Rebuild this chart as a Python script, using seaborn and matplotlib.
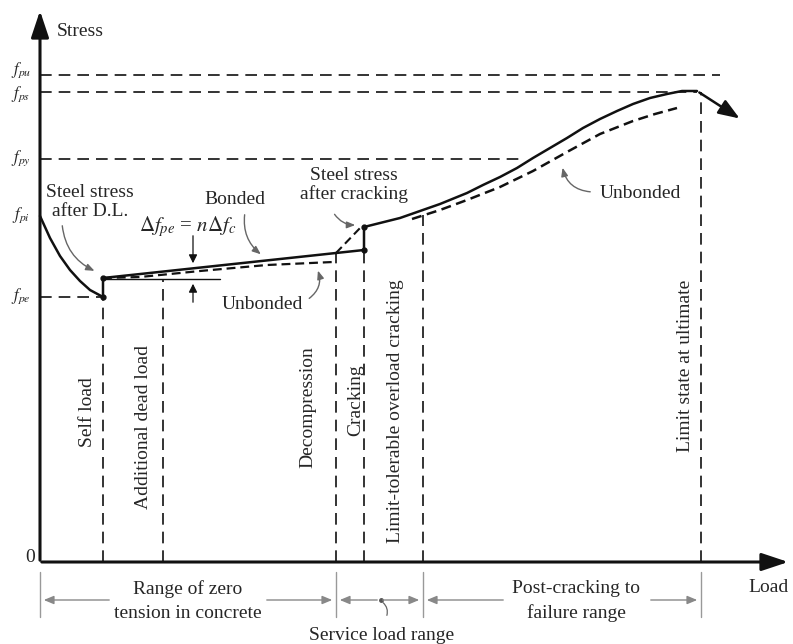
# -*- coding: utf-8 -*-
"""
Schematic: steel stress vs. load for a prestressed member
(bonded and unbonded tendons).
"""

import numpy as np
import pandas as pd
import seaborn as sns
import matplotlib.pyplot as plt


# Figure style
sns.set_style('white')
plt.rcParams['font.family'] = ['Liberation Serif', 'DejaVu Serif']
plt.rcParams['mathtext.fontset'] = 'stix'


# Stress levels (label, value)
level_labels = [r'$f_{pu}$', r'$f_{ps}$', r'$f_{py}$', r'$f_{pi}$', r'$f_{pe}$']
level_values = [487, 470, 403, 346, 265]
level_ends = [680, 657, 483, None, 63]   # load where the dashed line stops
label_shift = [4, -3, 0, 0, 0]          # nudge so f_pu / f_ps do not touch

# Load stages (vertical dashed lines)
stage_labels = ['Self load', 'Additional dead load', 'Decompression',
                'Cracking', 'Limit-tolerable overload cracking',
                'Limit state at ultimate']
stage_loads = [63, 123, 296, 324, 383, 661]
stage_tops = [265, 282, 309, 312, 347, 470]
stage_text_x = [48, 103, 268, 316, 356, 645]
stage_text_y = [150, 135, 155, 162, 151, 196]

# Loss of prestress before self load
loss_load = [0, 10, 20, 30, 40, 50, 63]
loss_stress = [346, 324, 306, 292, 281, 272, 265]

# Bonded tendon: elastic range, then jump at cracking, then post-cracking
bonded_pre_load = [63, 63, 324, 324]
bonded_pre_stress = [265, 284, 312, 335]
bonded_post_load = [324, 340, 360, 380, 400, 427, 443, 460, 477, 493, 510,
                    527, 543, 560, 577, 593, 610, 627, 642, 657]
bonded_post_stress = [335, 339, 344, 351, 358, 369, 377, 385, 394, 404, 414,
                      424, 434, 443, 451, 458, 464, 468, 471, 471]

# Unbonded tendon
unbonded_pre_load = [63, 100, 160, 227, 293]
unbonded_pre_stress = [284, 285, 291, 297, 300]
unbonded_post_load = [372, 400, 427, 460, 493, 527, 560, 593, 615, 637]
unbonded_post_stress = [343, 352, 362, 375, 391, 410, 428, 441, 448, 454]

# Dashed jump line decompression -> cracking
jump_load = [296, 322]
jump_stress = [309, 336]

# Ranges along the load axis
range_ticks = [0, 296, 383, 661]


# Build tables for seaborn
df_loss = pd.DataFrame({'Load': loss_load, 'Stress': loss_stress})
df_bonded = pd.DataFrame({'Load': bonded_pre_load + bonded_post_load,
                          'Stress': bonded_pre_stress + bonded_post_stress})
df_unb1 = pd.DataFrame({'Load': unbonded_pre_load,
                        'Stress': unbonded_pre_stress})
df_unb2 = pd.DataFrame({'Load': unbonded_post_load,
                        'Stress': unbonded_post_stress})


# Plot variables
ink = '#111111'
dash_color = '#333333'
lead_color = '#666666'
fs = 14
dash_style = (0, (6.0, 3.6))
unb_style = (0, (4.0, 2.2))

fig = plt.figure(figsize=(7.93, 6.44), dpi=100)
ax = fig.add_axes([0, 0, 1, 1])
ax.set_xlim(-40, 753)
ax.set_ylim(-82, 562)
ax.axis('off')

# Axes with arrows
ax.annotate('', xy=(0, 554), xytext=(0, -1),
            arrowprops=dict(arrowstyle='-|>,head_length=0.9,head_width=0.3',
                            color=ink, lw=2.2, mutation_scale=18))
ax.annotate('', xy=(751, 0), xytext=(-1, 0),
            arrowprops=dict(arrowstyle='-|>,head_length=0.9,head_width=0.3',
                            color=ink, lw=2.2, mutation_scale=18))
ax.text(17, 531, 'Stress', fontsize=fs, ha='left', va='center')
ax.text(729, -26, 'Load', fontsize=fs, ha='center', va='center')
ax.text(-10, 4, '0', fontsize=fs, ha='center', va='center')

# Stress levels
for lab, val, end, sh in zip(level_labels, level_values, level_ends,
                             label_shift):
    ax.text(-19, val + 1 + sh, lab, fontsize=12, ha='center', va='center')
    if end is not None:
        ax.plot([0, end], [val, val], color=dash_color, lw=1.4,
                linestyle=dash_style)

# Load stages
for lab, ld, top, tx, ty in zip(stage_labels, stage_loads, stage_tops,
                                stage_text_x, stage_text_y):
    ax.plot([ld, ld], [0, top], color=dash_color, lw=1.4,
            linestyle=dash_style)
    ax.text(tx, ty, lab, fontsize=fs, rotation=90, ha='center', va='center')

# Curves
sns.lineplot(data=df_loss, x='Load', y='Stress', sort=False, estimator=None,
             ax=ax, color=ink, lw=1.8)
sns.lineplot(data=df_bonded, x='Load', y='Stress', sort=False,
             estimator=None, ax=ax, color=ink, lw=1.8)
sns.lineplot(data=df_unb1, x='Load', y='Stress', sort=False, estimator=None,
             ax=ax, color=ink, lw=1.6, linestyle=unb_style)
sns.lineplot(data=df_unb2, x='Load', y='Stress', sort=False, estimator=None,
             ax=ax, color=ink, lw=1.8, linestyle=unb_style)
ax.plot(jump_load, jump_stress, color=ink, lw=1.5, linestyle=unb_style)

# Falling branch after ultimate
ax.annotate('', xy=(702, 442),
            xytext=(bonded_post_load[-1], bonded_post_stress[-1]),
            arrowprops=dict(arrowstyle='-|>,head_length=0.8,head_width=0.3',
                            color=ink, lw=1.8, mutation_scale=16))

# Small dots at the kinks
ax.plot([63, 63, 324, 324], [265, 284, 312, 335], 'o', color=ink, ms=3.5)

# Increment of steel stress dimension
ax.plot([63, 180], [283, 283], color=ink, lw=1.0)
ax.annotate('', xy=(153, 296), xytext=(153, 329),
            arrowprops=dict(arrowstyle='-|>,head_length=0.5,head_width=0.25',
                            color=ink, lw=0.9, mutation_scale=10))
ax.annotate('', xy=(153, 281), xytext=(153, 257),
            arrowprops=dict(arrowstyle='-|>,head_length=0.5,head_width=0.25',
                            color=ink, lw=0.9, mutation_scale=10))
ax.text(148, 335, r'$\Delta f_{pe}$ = $n\Delta f_c$', fontsize=fs + 1,
        ha='center', va='center')

# Annotations with curved leaders
lead = dict(arrowstyle='-|>,head_length=0.5,head_width=0.2', color=lead_color,
            lw=1.0, mutation_scale=10)
ax.text(50, 360, 'Steel stress\nafter D.L.', fontsize=fs, ha='center',
        va='center', linespacing=1.1)
ax.annotate('', xy=(57, 290), xytext=(22, 339),
            arrowprops=dict(connectionstyle='arc3,rad=0.3', **lead))
ax.text(195, 363, 'Bonded', fontsize=fs, ha='center', va='center')
ax.annotate('', xy=(223, 306), xytext=(205, 350),
            arrowprops=dict(connectionstyle='arc3,rad=0.3', **lead))
ax.text(222, 258, 'Unbonded', fontsize=fs, ha='center', va='center')
ax.annotate('', xy=(277, 294), xytext=(267, 262),
            arrowprops=dict(connectionstyle='arc3,rad=0.4', **lead))
ax.text(314, 377, 'Steel stress\nafter cracking', fontsize=fs, ha='center',
        va='center', linespacing=1.1)
ax.annotate('', xy=(318, 337), xytext=(293, 350),
            arrowprops=dict(connectionstyle='arc3,rad=0.3', **lead))
ax.text(600, 369, 'Unbonded', fontsize=fs, ha='center', va='center')
ax.annotate('', xy=(522, 397), xytext=(553, 370),
            arrowprops=dict(connectionstyle='arc3,rad=-0.4', **lead))

# Ranges below the load axis
for t in range_ticks:
    ax.plot([t, t], [-10, -55], color='#999999', lw=1.0)

rng = dict(arrowstyle='-|>,head_length=0.6,head_width=0.25',
           color='#888888', lw=1.0, mutation_scale=10)
ax.text(148, -39, 'Range of zero\ntension in concrete', fontsize=fs,
        ha='center', va='center', linespacing=1.55)
ax.annotate('', xy=(range_ticks[0] + 1, -38), xytext=(72, -38),
            arrowprops=rng)
ax.annotate('', xy=(range_ticks[1] - 1, -38), xytext=(224, -38),
            arrowprops=rng)
ax.annotate('', xy=(range_ticks[1] + 1, -38), xytext=(340, -38),
            arrowprops=rng)
ax.annotate('', xy=(range_ticks[2] - 1, -38), xytext=(340, -38),
            arrowprops=rng)
ax.plot([341], [-38], 'o', color='#555555', ms=2.5)
ax.annotate('', xy=(341, -39), xytext=(346, -56),
            arrowprops=dict(arrowstyle='-', color=lead_color, lw=0.9,
                            connectionstyle='arc3,rad=0.4'))
ax.text(342, -74, 'Service load range', fontsize=fs, ha='center',
        va='center')
ax.text(536, -39, 'Post-cracking to\nfailure range', fontsize=fs,
        ha='center', va='center', linespacing=1.55)
ax.annotate('', xy=(range_ticks[2] + 1, -38), xytext=(466, -38),
            arrowprops=rng)
ax.annotate('', xy=(range_ticks[3] - 1, -38), xytext=(608, -38),
            arrowprops=rng)

fig.savefig('out.png', dpi=100)
